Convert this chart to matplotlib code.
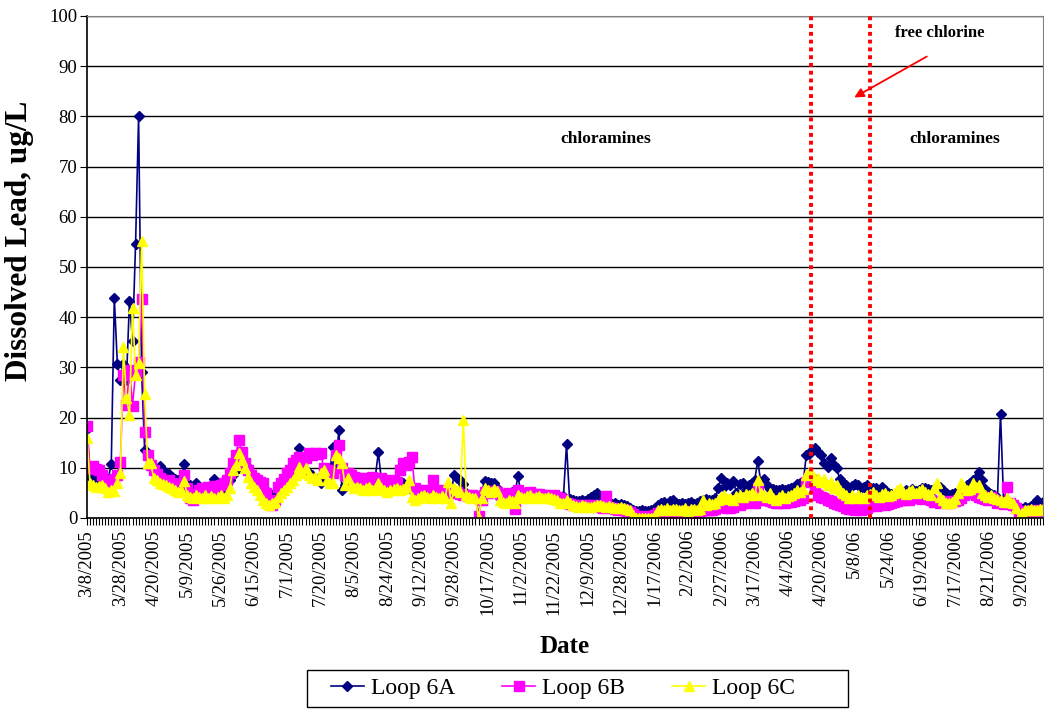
import matplotlib
matplotlib.use("Agg")
import matplotlib.pyplot as plt
import matplotlib.patches as patches
import numpy as np

# date labels shown every 11 samples (Excel category axis)
tick_labels = ["3/8/2005", "3/28/2005", "4/20/2005", "5/9/2005", "5/26/2005",
               "6/15/2005", "7/1/2005", "7/20/2005", "8/5/2005", "8/24/2005",
               "9/12/2005", "9/28/2005", "10/17/2005", "11/2/2005", "11/22/2005",
               "12/9/2005", "12/28/2005", "1/17/2006", "2/2/2006", "2/27/2006",
               "3/17/2006", "4/4/2006", "4/20/2006", "5/8/06", "5/24/06",
               "6/19/2006", "7/17/2006", "8/21/2006", "9/20/2006"]

# Loop 6A, ug/L
loop_6a = [
    17.8, 8.2, 7.8, 7.5, 7.2, 7.0, 7.3, 7.8, 10.8, 43.8,                 # 0-9
    30.7, 27.5, 30.7, 27.5, 43.3, 35.3, 54.5, 80.0, 29.0, 13.5,          # 10-19
    12.8, 10.5, 10.2, 9.8, 10.3, 9.5, 9.0, 8.8, 8.2, 7.8,                # 20-29
    7.5, 7.2, 10.7, 7.0, 6.5, 6.2, 7.0, 5.8, 5.5, 5.2,                   # 30-39
    5.5, 5.2, 7.8, 5.5, 5.3, 5.6, 6.0, 7.5, 8.5, 9.5,                    # 40-49
    10.0, 10.5, 10.8, 10.2, 9.0, 7.5, 7.2, 7.0, 6.5, 5.5,                # 50-59
    4.2, 4.5, 5.0, 6.0, 7.0, 7.5, 8.2, 9.0, 9.8, 10.2,                   # 60-69
    14.0, 10.5, 9.5, 9.0, 8.5, 8.0, 7.5, 7.0, 7.5, 8.0,                  # 70-79
    9.0, 14.2, 11.0, 17.5, 5.5, 6.5, 8.5, 8.2, 8.0, 7.8,                 # 80-89
    7.5, 7.8, 8.0, 7.6, 7.8, 8.2, 13.1, 7.5, 7.3, 7.0,                   # 90-99
    7.2, 6.8, 7.0, 6.8, 7.0, 6.5, 6.8, 5.5, 5.2, 5.0,                    # 100-109
    5.3, 5.0, 4.8, 5.2, 5.0, 4.9, 5.1, 5.0, 4.8, 5.0,                    # 110-119
    5.2, 8.6, 8.0, 7.5, 6.8, 5.0, 4.5, 4.0, 4.2, 0.3,                    # 120-129
    5.0, 7.4, 7.2, 6.9, 7.0, 6.0, 4.0, 3.6, 4.5, 5.0,                    # 130-139
    5.2, 4.8, 8.4, 4.8, 4.5, 4.6, 4.4, 4.5, 4.3, 4.2,                    # 140-149
    4.4, 4.3, 4.2, 4.0, 4.3, 4.5, 4.2, 4.4, 14.7, 3.8,                   # 150-159
    3.5, 3.3, 3.4, 3.5, 3.3, 3.8, 4.2, 4.6, 4.9, 3.3,                    # 160-169
    3.0, 2.9, 3.0, 2.8, 3.0, 2.6, 2.8, 2.5, 2.3, 2.0,                    # 170-179
    1.6, 1.4, 1.3, 1.6, 1.4, 1.3, 1.5, 2.0, 2.6, 3.0,                    # 180-189
    3.2, 2.8, 3.4, 3.6, 3.0, 2.8, 3.0, 2.7, 2.9, 3.1,                    # 190-199
    2.8, 3.0, 3.3, 3.6, 3.8, 3.6, 3.5, 3.9, 6.0, 8.0,                    # 200-209
    6.2, 7.0, 6.6, 7.4, 5.0, 6.8, 7.0, 5.5, 6.6, 7.0,                    # 210-219
    7.5, 11.4, 7.2, 7.8, 6.5, 5.8, 5.7, 5.6, 5.5, 5.8,                   # 220-229
    5.6, 5.7, 5.9, 6.2, 6.8, 7.0, 7.2, 12.5, 12.8, 13.5,                 # 230-239
    13.9, 13.2, 12.5, 11.0, 10.2, 11.9, 10.5, 9.9, 7.8, 6.9,             # 240-249
    6.5, 6.0, 6.3, 6.8, 6.5, 6.0, 6.2, 6.5, 5.8, 6.0,                    # 250-259
    5.9, 5.5, 6.2, 5.5, 5.0, 4.8, 4.5, 4.9, 5.0, 5.2,                    # 260-269
    5.5, 5.4, 5.8, 5.3, 5.6, 5.9, 6.0, 5.8, 5.5, 5.8,                    # 270-279
    6.0, 6.2, 5.5, 5.0, 4.5, 4.8, 5.0, 4.9, 5.5, 6.0,                    # 280-289
    6.5, 7.0, 7.5, 8.0, 9.2, 7.6, 5.8, 5.2, 4.8, 4.5,                    # 290-299
    4.2, 20.8, 3.8, 3.5, 3.0, 2.8, 2.5, 1.0, 1.8, 2.2,                   # 300-309
    2.0, 2.3, 2.5, 3.6, 2.5, 3.2,                                        # 310-315
]

# Loop 6B, ug/L
loop_6b = [
    18.3, 10.0, 10.3, 9.8, 9.5, 8.5, 7.5, 6.8, 7.2, 7.8,                 # 0-9
    8.5, 11.2, 28.5, 22.5, 29.5, 22.4, 29.0, 31.1, 43.6, 17.2,           # 10-19
    12.5, 10.5, 9.5, 8.8, 8.0, 7.6, 7.2, 7.5, 7.0, 6.8,                  # 20-29
    6.5, 6.2, 8.6, 6.0, 3.9, 3.6, 4.8, 5.5, 6.0, 5.8,                    # 30-39
    6.2, 5.6, 6.4, 6.0, 6.5, 7.0, 7.5, 9.0, 10.9, 12.5,                  # 40-49
    15.5, 13.2, 11.0, 9.6, 8.5, 7.9, 7.5, 7.2, 6.9, 5.0,                 # 50-59
    3.3, 2.6, 3.5, 6.2, 7.0, 7.8, 8.9, 9.5, 10.9, 11.5,                  # 60-69
    12.2, 11.0, 12.0, 12.9, 12.5, 13.0, 12.8, 12.9, 10.0, 9.6,           # 70-79
    9.2, 9.0, 12.5, 14.5, 10.0, 8.5, 8.9, 8.5, 8.2, 7.9,                 # 80-89
    8.0, 7.8, 7.6, 7.9, 8.2, 7.5, 7.2, 7.9, 7.5, 7.2,                    # 90-99
    7.4, 7.5, 7.2, 9.5, 11.0, 10.5, 11.2, 12.2, 6.0, 5.6,                # 100-109
    5.4, 5.2, 5.5, 5.3, 7.6, 5.2, 5.4, 5.6, 5.3, 5.5,                    # 110-119
    5.2, 5.0, 5.2, 4.8, 4.6, 4.5, 4.4, 4.6, 4.3, 0.3,                    # 120-129
    3.5, 5.2, 5.0, 5.4, 5.3, 5.2, 4.8, 4.6, 4.8, 5.0,                    # 130-139
    4.6, 1.7, 5.6, 5.0, 4.8, 4.9, 5.2, 4.6, 4.8, 4.7,                    # 140-149
    4.5, 4.6, 4.4, 4.3, 4.5, 4.2, 3.9, 3.6, 2.9, 2.8,                    # 150-159
    2.6, 2.5, 2.4, 2.3, 2.5, 2.6, 2.4, 2.3, 2.5, 2.2,                    # 160-169
    2.0, 4.4, 2.1, 2.0, 1.8, 1.6, 1.8, 1.6, 1.4, 1.2,                    # 170-179
    0.8, 0.3, 0.2, 0.0, 0.3, 0.2, 0.4, 0.6, 1.0, 1.2,                    # 180-189
    1.0, 1.3, 0.9, 1.1, 1.2, 0.8, 1.0, 1.3, 0.9, 1.1,                    # 190-199
    1.2, 1.0, 1.3, 1.5, 1.6, 1.5, 1.6, 1.8, 2.6, 2.4,                    # 200-209
    2.2, 1.9, 2.0, 2.2, 2.5, 2.6, 2.9, 3.0, 3.3, 3.2,                    # 210-219
    3.0, 5.9, 4.0, 3.5, 3.9, 3.4, 3.2, 3.0, 2.9, 3.1,                    # 220-229
    3.0, 3.2, 3.2, 3.4, 3.6, 3.5, 4.0, 7.2, 8.0, 7.5,                    # 230-239
    6.0, 4.5, 4.2, 4.0, 3.6, 3.3, 3.0, 2.8, 2.5, 2.3,                    # 240-249
    2.0, 1.8, 1.7, 1.6, 1.7, 1.6, 1.8, 1.9, 2.3, 2.5,                    # 250-259
    2.4, 2.6, 2.8, 2.6, 2.7, 3.0, 3.2, 3.3, 3.5, 3.6,                    # 260-269
    3.8, 3.6, 3.9, 4.0, 4.2, 3.8, 4.0, 3.9, 3.6, 3.2,                    # 270-279
    3.4, 3.0, 3.2, 3.3, 3.0, 3.2, 3.4, 3.6, 4.0, 4.5,                    # 280-289
    5.0, 5.2, 5.0, 4.5, 4.2, 4.0, 3.8, 3.6, 4.2, 3.5,                    # 290-299
    3.0, 3.2, 2.8, 6.2, 3.0, 2.5, 2.0, 0.9, 1.0, 1.3,                    # 300-309
    1.2, 1.4, 1.3, 1.5, 1.4, 1.6,                                        # 310-315
]

# Loop 6C, ug/L
loop_6c = [
    16.0, 7.0, 6.5, 6.2, 6.3, 6.5, 6.0, 5.2, 5.5, 5.3,                   # 0-9
    7.0, 8.9, 34.1, 24.0, 20.5, 41.8, 28.5, 30.9, 55.2, 24.7,            # 10-19
    11.0, 10.9, 7.9, 7.5, 7.0, 6.8, 6.5, 6.2, 5.9, 5.5,                  # 20-29
    5.2, 5.5, 7.4, 4.6, 4.2, 3.9, 4.5, 4.2, 3.9, 4.5,                    # 30-39
    4.0, 4.4, 3.9, 4.2, 4.6, 4.0, 4.5, 6.0, 9.6, 10.5,                   # 40-49
    12.9, 11.6, 10.0, 8.2, 7.0, 6.2, 5.5, 4.6, 3.6, 2.9,                 # 50-59
    2.6, 3.0, 3.2, 4.2, 5.0, 5.5, 6.2, 7.0, 7.6, 8.5,                    # 60-69
    10.2, 9.0, 9.9, 8.5, 7.9, 8.2, 7.5, 9.0, 9.6, 7.6,                   # 70-79
    6.9, 7.0, 12.5, 12.0, 10.9, 6.5, 7.9, 6.5, 5.9, 6.2,                 # 80-89
    6.0, 5.5, 5.9, 6.2, 5.5, 5.8, 6.9, 6.0, 5.5, 5.2,                    # 90-99
    5.6, 5.8, 6.0, 5.5, 5.8, 6.2, 7.6, 4.2, 3.6, 4.0,                    # 100-109
    4.3, 4.6, 4.2, 4.0, 4.5, 4.1, 3.9, 4.3, 4.0, 7.2,                    # 110-119
    3.0, 5.9, 5.5, 5.2, 19.5, 4.6, 4.2, 3.9, 4.0, 0.0,                   # 120-129
    4.0, 5.9, 5.5, 5.2, 5.8, 5.3, 3.6, 3.2, 2.9, 3.5,                    # 130-139
    3.3, 3.0, 4.5, 4.2, 4.0, 4.3, 4.6, 3.9, 4.1, 4.4,                    # 140-149
    4.0, 3.9, 4.2, 4.0, 3.8, 3.5, 3.0, 2.9, 3.5, 2.9,                    # 150-159
    2.6, 2.4, 2.2, 2.5, 2.3, 2.1, 2.2, 2.4, 2.6, 2.5,                    # 160-169
    2.3, 2.1, 2.4, 2.2, 1.9, 2.0, 2.1, 1.9, 1.8, 1.5,                    # 170-179
    0.6, 0.0, 0.0, 0.0, 0.0, 0.0, 0.0, 0.5, 1.6, 1.8,                    # 180-189
    1.6, 1.9, 1.5, 1.7, 1.8, 1.5, 1.6, 1.9, 1.4, 1.7,                    # 190-199
    1.8, 1.5, 1.8, 3.6, 2.5, 2.9, 2.8, 3.0, 3.6, 4.2,                    # 200-209
    4.6, 3.8, 4.0, 3.6, 4.3, 4.5, 4.2, 4.8, 4.5, 4.9,                    # 210-219
    4.6, 7.6, 5.0, 4.6, 4.2, 4.9, 4.0, 3.6, 4.2, 4.5,                    # 220-229
    4.0, 4.4, 4.6, 5.0, 5.6, 5.2, 5.8, 8.6, 9.2, 8.8,                    # 230-239
    7.5, 8.0, 7.2, 7.8, 6.5, 7.2, 6.0, 6.5, 5.6, 5.0,                    # 240-249
    4.5, 3.9, 4.5, 4.0, 4.6, 4.2, 3.9, 4.5, 4.8, 5.2,                    # 250-259
    4.6, 4.2, 4.8, 5.0, 4.4, 4.6, 5.0, 5.5, 5.9, 5.2,                    # 260-269
    4.8, 5.3, 5.6, 5.0, 5.4, 5.8, 5.2, 4.8, 4.5, 6.0,                    # 270-279
    6.9, 4.2, 3.5, 3.0, 2.9, 3.2, 3.8, 5.0, 6.9, 6.2,                    # 280-289
    5.5, 5.8, 6.9, 6.2, 6.5, 5.0, 4.6, 4.2, 4.6, 4.0,                    # 290-299
    3.8, 3.5, 3.2, 3.9, 3.2, 2.9, 2.0, 0.0, 1.0, 1.6,                    # 300-309
    1.5, 1.7, 1.6, 1.5, 1.8, 1.7,                                        # 310-315
]

# dosing change (free chlorine period) between these samples
switch_points = [238.5, 258.0]

plt.rcParams['font.family'] = ['Liberation Serif', 'DejaVu Serif']

fig = plt.figure(figsize=(10.44, 7.09), dpi=100)
ax = fig.add_axes([87 / 1044, 1 - 518 / 709, 956 / 1044, 502 / 709])

ax.plot(np.arange(len(loop_6a)), loop_6a, color='#000080', lw=1.2,
        marker='D', ms=5.5, label='Loop 6A')
ax.plot(np.arange(len(loop_6b)), loop_6b, color='#FF00FF', lw=1.2,
        marker='s', ms=6.5, label='Loop 6B')
ax.plot(np.arange(len(loop_6c)), loop_6c, color='#FFFF00', lw=1.2,
        marker='^', ms=7.5, label='Loop 6C')

for xs in switch_points:
    ax.axvline(xs, color='red', ls=(0, (1, 1)), lw=2.8, zorder=5)

ax.text(171, 75.5, 'chloramines', fontsize=12.5, weight='bold', ha='center', va='center')
ax.text(286, 75.5, 'chloramines', fontsize=12.5, weight='bold', ha='center', va='center')
ax.text(281, 96.6, 'free chlorine', fontsize=12, weight='bold', ha='center', va='center')
ax.annotate('', xy=(252, 83.5), xytext=(277.5, 92.2),
            arrowprops=dict(arrowstyle='-|>', color='red', lw=1.3, mutation_scale=14))

ax.set_xlim(0, len(loop_6a) - 1)
ax.set_ylim(0, 100)
ax.set_yticks(range(0, 101, 10))
ax.grid(axis='y', color='black', lw=1)
ax.set_axisbelow(True)

ax.set_xticks(range(0, 11 * len(tick_labels), 11))
ax.set_xticklabels(tick_labels, rotation=90, fontsize=13.5)
ax.set_xticks(range(0, len(loop_6a)), minor=True)
ax.tick_params(axis='x', which='both', direction='out', length=5, width=0.8)
ax.tick_params(axis='y', labelsize=13.5, length=5, pad=2)

for side in ['top', 'right']:
    ax.spines[side].set_color('#808080')
for side in ['left', 'bottom']:
    ax.spines[side].set_color('black')
    ax.spines[side].set_linewidth(1.2)

fig.text(20 / 1044, 1 - 241 / 709, 'Dissolved Lead, ug/L', fontsize=22.5, weight='bold',
         rotation=90, ha='center', va='center')
ax.set_xlabel('Date', fontsize=18, weight='bold', labelpad=14)

# legend entries without frame, box drawn separately to match the wide Excel frame
fig.legend(loc='center', bbox_to_anchor=(563 / 1044, 1 - 688 / 709), ncol=3,
           fontsize=17, frameon=False,
           handlelength=1.4, handletextpad=0.3, columnspacing=2.0, borderpad=0.3)
box = patches.Rectangle((307 / 1044, 1 - 707 / 709), 541 / 1044, 37 / 709,
                        transform=fig.transFigure, facecolor='none',
                        edgecolor='black', linewidth=1.0)
fig.patches.append(box)

fig.savefig('out.png', dpi=100)
